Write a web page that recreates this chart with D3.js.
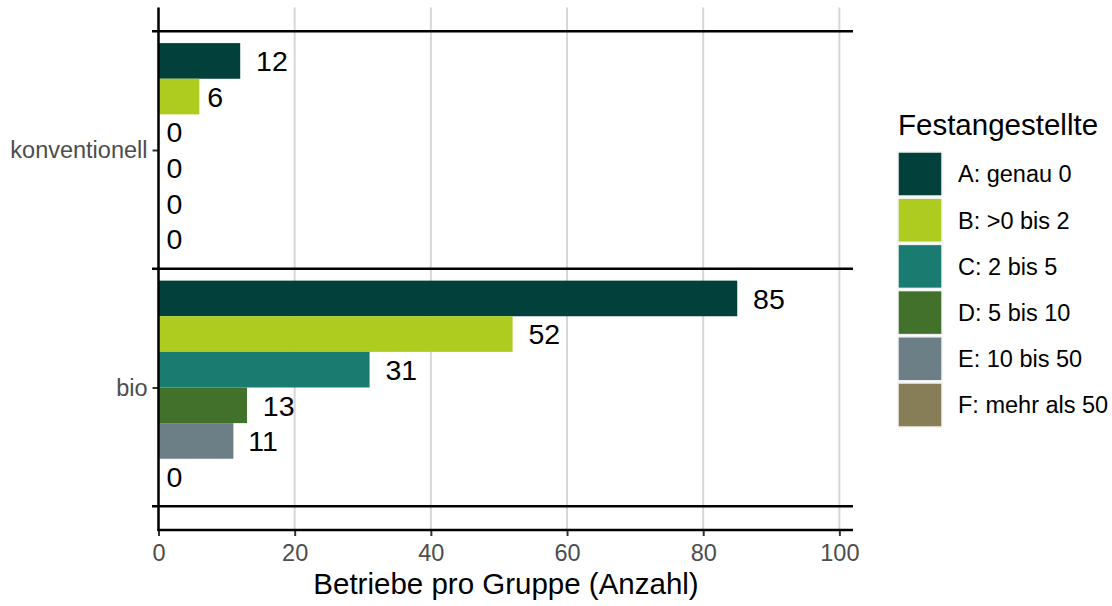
<!DOCTYPE html>
<html>
<head>
<meta charset="utf-8">
<script src="https://cdn.jsdelivr.net/npm/d3@7"></script>
<style>
  body { margin: 0; background: #fff; }
  text { font-family: "Liberation Sans", Arial, sans-serif; }
</style>
</head>
<body>
<div id="chart"></div>
<script>
// data
var categories = ["bio", "konventionell"];
var groups = ["A: genau 0", "B: >0 bis 2", "C: 2 bis 5", "D: 5 bis 10", "E: 10 bis 50", "F: mehr als 50"];
var bioValues = [85, 52, 31, 13, 11, 0];
var konvValues = [12, 6, 0, 0, 0, 0];
var groupColors = ["#01403b", "#aecb1f", "#1a7b70", "#42712b", "#6c7f87", "#877d56"];
var xTicks = [0, 20, 40, 60, 80, 100];

var width = 1112, height = 606;

var svg = d3.select("#chart")
    .append("svg")
    .attr("width", width)
    .attr("height", height);

var x = d3.scaleLinear().domain([0, 102]).range([158.5, 853]);
// category positions 1..n like ggplot's discrete scale
var y = d3.scaleLinear().domain([0.4, 2.6]).range([530, 7.5]);

var rows = [];
categories.forEach(function (c, ci) {
    var vals = c == "bio" ? bioValues : konvValues;
    vals.forEach(function (v, gi) {
        rows.push({cat: c, pos: ci + 1, group: gi, value: v});
    });
});
var dodge = 0.9 / groups.length;

// grid
svg.append("g")
    .selectAll("line")
    .data(xTicks)
    .enter()
    .append("line")
    .attr("x1", function (d) { return x(d); })
    .attr("x2", function (d) { return x(d); })
    .attr("y1", y(2.6))
    .attr("y2", y(0.4))
    .style("stroke", "#d6d6d6")
    .style("stroke-width", 2);

// bars
svg.append("g")
    .selectAll("rect")
    .data(rows)
    .enter()
    .append("rect")
    .attr("x", x(0))
    .attr("y", function (d) { return y(d.pos + 0.45 - d.group * dodge); })
    .attr("width", function (d) { return x(d.value) - x(0); })
    .attr("height", function (d) { return y(0) - y(dodge); })
    .attr("fill", function (d) { return groupColors[d.group]; });

// value labels (hjust = -0.5)
svg.append("g")
    .selectAll("text")
    .data(rows)
    .enter()
    .append("text")
    .attr("x", function (d) { return x(d.value); })
    .attr("y", function (d) { return y(d.pos + 0.45 - (d.group + 0.5) * dodge); })
    .attr("dy", "0.36em")
    .style("font-size", "28.5px")
    .style("fill", "#000")
    .text(function (d) { return d.value; })
    .each(function () {
        var w = this.getComputedTextLength();
        d3.select(this).attr("dx", w / 2);
    });

// separators between groups
svg.append("g")
    .selectAll("line")
    .data([0.5, 1.5, 2.5])
    .enter()
    .append("line")
    .attr("x1", 152)
    .attr("x2", 853)
    .attr("y1", function (d) { return y(d); })
    .attr("y2", function (d) { return y(d); })
    .style("stroke", "#000")
    .style("stroke-width", 2.5);

// x axis
var xAxis = svg.append("g")
    .attr("transform", "translate(0," + y(0.4) + ")")
    .call(d3.axisBottom(x).tickValues(xTicks).tickSize(6).tickPadding(8));
xAxis.select(".domain").remove();
xAxis.selectAll(".tick line").style("stroke", "#333").style("stroke-width", 2);
xAxis.selectAll(".tick text").style("font-size", "23.5px").style("fill", "#4d4d4d").style("font-family", "Liberation Sans, Arial, sans-serif");
svg.append("line")
    .attr("x1", x(0) - 1).attr("x2", 853)
    .attr("y1", y(0.4)).attr("y2", y(0.4))
    .style("stroke", "#000").style("stroke-width", 2.5);

// y axis
var yAxis = svg.append("g")
    .attr("transform", "translate(" + x(0) + ",0)")
    .call(d3.axisLeft(y).tickValues([1, 2])
        .tickFormat(function (d) { return categories[d - 1]; })
        .tickSize(6).tickPadding(5));
yAxis.select(".domain").remove();
yAxis.selectAll(".tick line").style("stroke", "#333").style("stroke-width", 2);
yAxis.selectAll(".tick text").style("font-size", "23.5px").style("fill", "#4d4d4d").style("font-family", "Liberation Sans, Arial, sans-serif");
svg.append("line")
    .attr("x1", x(0)).attr("x2", x(0))
    .attr("y1", y(2.6)).attr("y2", y(0.4) + 1)
    .style("stroke", "#000").style("stroke-width", 2.5);

// axis title
svg.append("text")
    .attr("x", 506)
    .attr("y", 594)
    .attr("text-anchor", "middle")
    .style("font-size", "29.5px")
    .text("Betriebe pro Gruppe (Anzahl)");

// legend
var legend = svg.append("g").attr("transform", "translate(898,0)");
legend.append("text")
    .attr("x", 0).attr("y", 135)
    .style("font-size", "29.5px")
    .text("Festangestellte");
var keys = legend.selectAll("g.key")
    .data(groups)
    .enter()
    .append("g")
    .attr("class", "key")
    .attr("transform", function (d, i) { return "translate(0," + (152 + i * 46.2) + ")"; });
keys.append("rect")
    .attr("width", 44).attr("height", 44)
    .attr("fill", function (d, i) { return groupColors[i]; })
    .style("stroke", "#f2f2f2")
    .style("stroke-width", 1.5);
keys.append("text")
    .attr("x", 60).attr("y", 22)
    .attr("dy", "0.36em")
    .style("font-size", "23.5px")
    .text(function (d) { return d; });
</script>
</body>
</html>
